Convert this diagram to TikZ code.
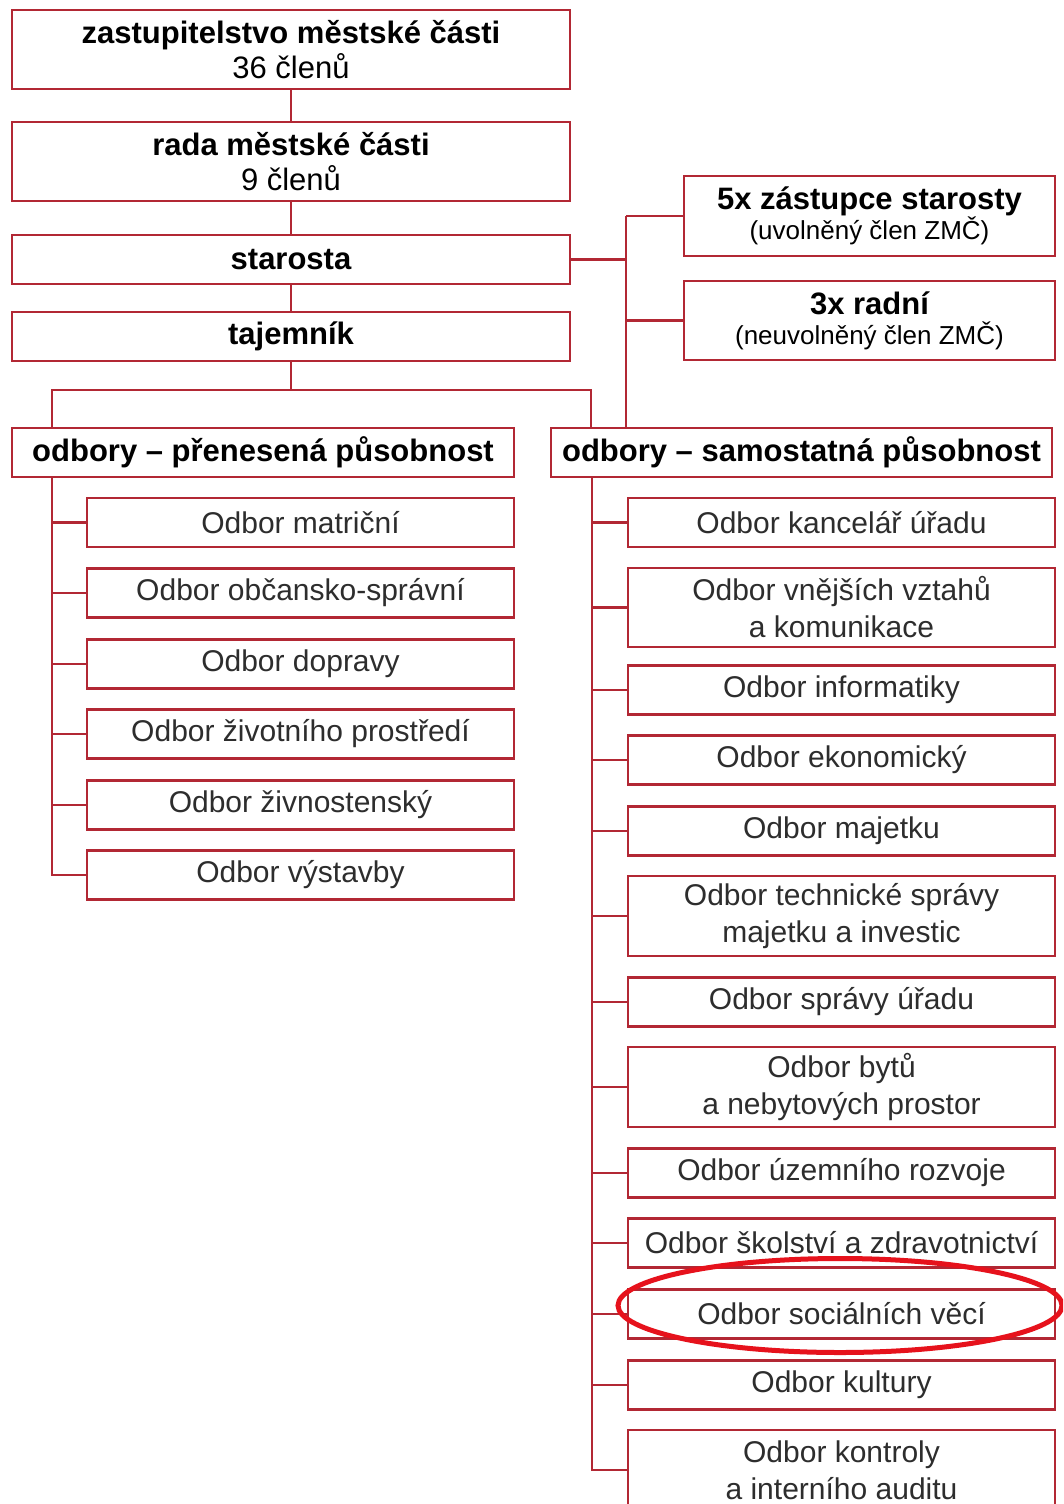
\documentclass[tikz,border=0pt]{standalone}
\usepackage{fontspec}
\setmainfont{Liberation Sans}
\definecolor{boxred}{RGB}{178,40,52}
\definecolor{ellred}{RGB}{230,18,28}
\definecolor{txtgray}{RGB}{45,45,45}
\begin{document}
\begin{tikzpicture}[x=1pt,y=-1pt,
  box/.style={draw=boxred,line width=2.8pt,fill=white,inner sep=0pt,align=center,
    minimum height=49pt},
  bigbox/.style={box,font=\fontsize{31}{36}\selectfont\bfseries},
  subbox/.style={box,font=\fontsize{30}{37}\selectfont,text=txtgray},
  conn/.style={draw=boxred,line width=2.8pt}]
\useasboundingbox (0,0) rectangle (1063,1504);
\clip (0,0) rectangle (1063,1504);
\fill[white] (0,0) rectangle (1063,1504);
% top chain
\node[bigbox,minimum width=558pt,minimum height=79pt] (z) at (291,49.5)
  {zastupitelstvo městské části\\[-1pt]{\mdseries 36 členů}};
\node[bigbox,minimum width=558pt,minimum height=79pt] (r) at (291,161.5)
  {rada městské části\\[-1pt]{\mdseries 9 členů}};
\node[bigbox,minimum width=558pt] (s) at (291,259.5) {starosta};
\node[bigbox,minimum width=558pt] (t) at (291,336.5) {tajemník};
% deputies
\node[bigbox,minimum width=371pt,minimum height=80pt] (d5) at (869.5,216)
  {5x zástupce starosty\\[-6pt]{\mdseries\fontsize{26}{30}\selectfont (uvolněný člen ZMČ)}};
\node[bigbox,minimum width=371pt,minimum height=79pt] (d3) at (869.5,320.5)
  {3x radní\\[-6pt]{\mdseries\fontsize{26}{30}\selectfont (neuvolněný člen ZMČ)}};
% departments heads
\node[bigbox,minimum width=502pt] (L) at (263,452.5) {odbory – přenesená působnost};
\node[bigbox,minimum width=501pt] (R) at (801.5,452.5) {odbory – samostatná působnost};
% left children
\node[subbox,minimum width=427pt] (l1) at (300.5,522.5) {Odbor matriční};
\node[subbox,minimum width=427pt] (l2) at (300.5,593) {Odbor občansko-správní};
\node[subbox,minimum width=427pt] (l3) at (300.5,664) {Odbor dopravy};
\node[subbox,minimum width=427pt] (l4) at (300.5,734) {Odbor životního prostředí};
\node[subbox,minimum width=427pt] (l5) at (300.5,805) {Odbor živnostenský};
\node[subbox,minimum width=427pt] (l6) at (300.5,875) {Odbor výstavby};
% right children
\node[subbox,minimum width=427pt] (r1) at (841.5,522.5) {Odbor kancelář úřadu};
\node[subbox,minimum width=427pt,minimum height=79pt] (r2) at (841.5,607.5) {Odbor vnějších vztahů\\a komunikace};
\node[subbox,minimum width=427pt] (r3) at (841.5,690) {Odbor informatiky};
\node[subbox,minimum width=427pt] (r4) at (841.5,760) {Odbor ekonomický};
\node[subbox,minimum width=427pt] (r5) at (841.5,831) {Odbor majetku};
\node[subbox,minimum width=427pt,minimum height=80pt] (r6) at (841.5,916) {Odbor technické správy\\majetku a investic};
\node[subbox,minimum width=427pt] (r7) at (841.5,1002) {Odbor správy úřadu};
\node[subbox,minimum width=427pt,minimum height=80pt] (r8) at (841.5,1087) {Odbor bytů\\a nebytových prostor};
\node[subbox,minimum width=427pt] (r9) at (841.5,1173) {Odbor územního rozvoje};
\node[subbox,minimum width=427pt] (r10) at (841.5,1243) {Odbor školství a zdravotnictví};
\node[subbox,minimum width=427pt] (r11) at (841.5,1314) {Odbor sociálních věcí};
\node[subbox,minimum width=427pt] (r12) at (841.5,1385) {Odbor kultury};
\node[subbox,minimum width=427pt,minimum height=80pt] (r13) at (841.5,1470) {Odbor kontroly\\a interního auditu};
% junction coordinates
\coordinate (tj) at (291,390);
\coordinate (lj) at (52,390);
\coordinate (rj) at (591,390);
\coordinate (sj) at (626,259.5);
\coordinate (lt) at (52,476);
\coordinate (rt) at (592,476);
% connectors
\draw[conn] (z.south) -- (r.north);
\draw[conn] (r.south) -- (s.north);
\draw[conn] (s.south) -- (t.north);
\draw[conn] (t.south) -- (tj);
\draw[conn] (lj |- L.north) -- (lj) -- (rj) -- (rj |- R.north);
\draw[conn] (s.east) -- (sj);
\draw[conn] (sj |- d5.west) -- (sj |- R.north);
\draw[conn] (d5.west) -- (sj |- d5.west);
\draw[conn] (d3.west) -- (sj |- d3.west);
% left trunk
\draw[conn] (lt |- L.south) -- (lt |- l6.west) -- (l6.west);
\foreach \n in {l1,l2,l3,l4,l5}{\draw[conn] (\n.west) -- (lt |- \n.west);}
% right trunk
\draw[conn] (rt |- R.south) -- (rt |- r13.west) -- (r13.west);
\foreach \n in {r1,r2,r3,r4,r5,r6,r7,r8,r9,r10,r11,r12}{\draw[conn] (\n.west) -- (rt |- \n.west);}
% highlight
\draw[ellred,line width=5pt] (840,1305.5) ellipse [x radius=222, y radius=47];
\end{tikzpicture}
\end{document}
